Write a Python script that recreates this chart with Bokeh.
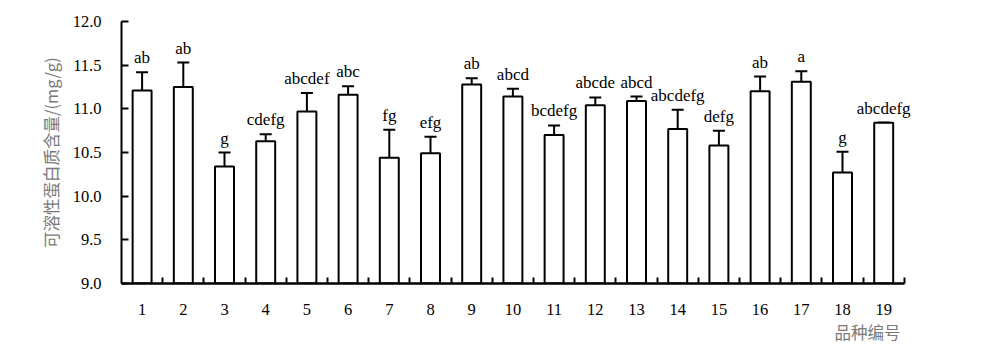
from bokeh.plotting import figure
from bokeh.models import (ColumnDataSource, Whisker, TeeHead, FixedTicker, LabelSet, Title,
                          CustomJSTickFormatter)
from bokeh.embed import file_html
from bokeh.resources import INLINE

categories = [str(i) for i in range(1, 20)]
means = [11.21, 11.25, 10.34, 10.63, 10.97, 11.16, 10.44, 10.49, 11.28, 11.14,
         10.70, 11.04, 11.09, 10.77, 10.58, 11.20, 11.31, 10.27, 10.84]
errors = [0.21, 0.28, 0.16, 0.08, 0.21, 0.10, 0.32, 0.19, 0.07, 0.09,
          0.11, 0.09, 0.05, 0.22, 0.17, 0.17, 0.12, 0.24, 0.0]
letters = ["ab", "ab", "g", "cdefg", "abcdef", "abc", "fg", "efg", "ab", "abcd",
           "bcdefg", "abcde", "abcd", "abcdefg", "defg", "ab", "a", "g", "abcdefg"]
y_ticks = [9.0, 9.5, 10.0, 10.5, 11.0, 11.5, 12.0]
y_label = "可溶性蛋白质含量/(mg/g)"
x_label = "品种编号"

n = len(categories)
xs = list(range(1, n + 1))
src = ColumnDataSource(dict(
    x=xs, cat=categories, top=means, err=errors, lab=letters,
    upper=[m + e for m, e in zip(means, errors)],
    lower=[m - e for m, e in zip(means, errors)],
))

# range extended one slot to the right so the last letter label is not clipped;
# the x axis itself is bounded to the 19 categories
p = figure(width=1000, height=346, output_backend="svg", toolbar_location=None,
           x_range=(0.5, n + 1.5), y_range=(9.0, 12.0),
           min_border_left=121, min_border_right=55, min_border_top=21, min_border_bottom=63)
p.outline_line_color = None
p.grid.visible = False
p.background_fill_color = "white"
p.border_fill_color = "white"

p.vbar(x="x", bottom=9.0, top="top", width=0.46, source=src,
       fill_color="white", line_color="black", line_width=2)

w = Whisker(base="x", upper="upper", lower="lower", source=src,
            line_color="black", line_width=2,
            upper_head=TeeHead(size=12, line_width=2, line_color="black"),
            lower_head=TeeHead(size=12, line_width=2, line_color="black"))
p.add_layout(w)

p.add_layout(LabelSet(x="x", y="upper", text="lab", source=src, text_align="center",
                      text_baseline="bottom", y_offset=5,
                      text_font="Liberation Serif", text_font_size="17px",
                      text_color="black"))

serif = "Liberation Serif"
# y axis
ya = p.yaxis[0]
ya.ticker = FixedTicker(ticks=y_ticks)
ya.formatter = CustomJSTickFormatter(code="return tick.toFixed(1);")
ya.major_tick_in = 7
ya.major_tick_out = 0
ya.minor_tick_line_color = None
ya.axis_line_width = 2
ya.major_tick_line_width = 2
ya.major_label_standoff = 20
ya.major_label_text_font = serif
ya.major_label_text_font_size = "16.5px"
ya.major_label_text_color = "black"
ya.axis_label = y_label
ya.axis_label_text_font = "Noto Sans CJK SC"
ya.axis_label_text_font_size = "16.5px"
ya.axis_label_text_font_style = "normal"
ya.axis_label_text_color = "#7a7a7a"
ya.axis_label_standoff = 7

# x axis
xa = p.xaxis[0]
xa.bounds = (0.5, n + 0.5)
xa.ticker = FixedTicker(ticks=xs, minor_ticks=[x + 0.5 for x in xs])
xa.major_label_overrides = {x: c for x, c in zip(xs, categories)}
xa.major_tick_line_color = None
xa.major_tick_in = 0
xa.major_tick_out = 0
xa.minor_tick_in = 6
xa.minor_tick_out = 0
xa.minor_tick_line_width = 2
xa.axis_line_width = 2.5
xa.major_label_standoff = 20
xa.major_label_text_font = serif
xa.major_label_text_font_size = "16.5px"
xa.major_label_text_color = "black"

p.add_layout(Title(text=x_label, align="right", text_font="Noto Sans CJK SC",
                   text_font_size="16.5px", text_font_style="normal",
                   text_color="#7a7a7a", offset=45, standoff=0), "below")

open("out.html", "w").write(file_html(p, INLINE))
